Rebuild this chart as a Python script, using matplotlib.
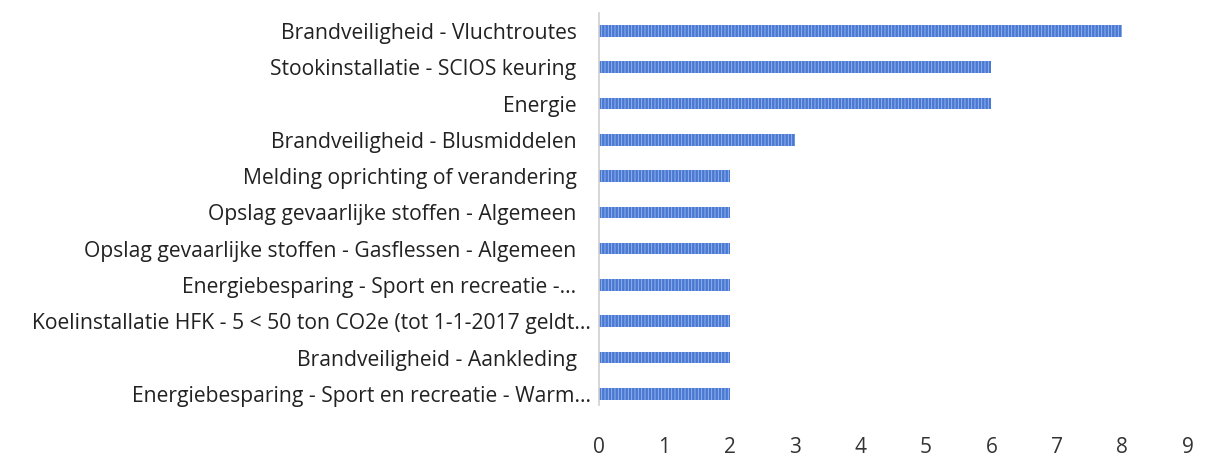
import matplotlib.pyplot as plt
import matplotlib.transforms as mtransforms

categories = [
    "Brandveiligheid - Vluchtroutes",
    "Stookinstallatie - SCIOS keuring",
    "Energie",
    "Brandveiligheid - Blusmiddelen",
    "Melding oprichting of verandering",
    "Opslag gevaarlijke stoffen - Algemeen",
    "Opslag gevaarlijke stoffen - Gasflessen - Algemeen",
    "Energiebesparing - Sport en recreatie -...",
    "Koelinstallatie HFK - 5 < 50 ton CO2e (tot 1-1-2017 geldt...",
    "Brandveiligheid - Aankleding",
    "Energiebesparing - Sport en recreatie - Warm...",
]
counts = [8, 6, 6, 3, 2, 2, 2, 2, 2, 2, 2]
xticks = list(range(10))
# the two longest labels overflow towards the axis in the original
overflow = [8, 10]

plt.rcParams['font.family'] = ['Open Sans', 'DejaVu Sans']
plt.rcParams['hatch.linewidth'] = 0.6

fig = plt.figure(figsize=(12.22, 4.73), dpi=100)
ax = fig.add_axes([0.490, 0.129, 0.482, 0.844])

y = list(range(len(categories)))
ax.barh(y, counts, height=0.32, color='#4a78d2', edgecolor='#9dbbee',
        linewidth=0, hatch='|||||')
ax.set_yticks(y)
ax.set_yticklabels(categories, fontsize=15.2, color='#222222')
ax.set_ylim(len(categories) - 0.5, -0.5)
ax.set_xlim(0, 9)
ax.set_xticks(xticks)
ax.tick_params(axis='x', length=0, pad=18, labelsize=15, labelcolor='#333333')
ax.tick_params(axis='y', length=0, pad=16)

shift = mtransforms.ScaledTranslation(14 / 100, 0, fig.dpi_scale_trans)
for i, lab in enumerate(ax.get_yticklabels()):
    if i in overflow:
        lab.set_transform(lab.get_transform() + shift)

for s in ['top', 'right', 'bottom']:
    ax.spines[s].set_visible(False)
ax.spines['left'].set_color('#d0d0d0')
ax.spines['left'].set_linewidth(1.2)
ax.spines['left'].set_bounds(-0.5, len(categories) - 0.7)

fig.savefig('out.png', dpi=100)
